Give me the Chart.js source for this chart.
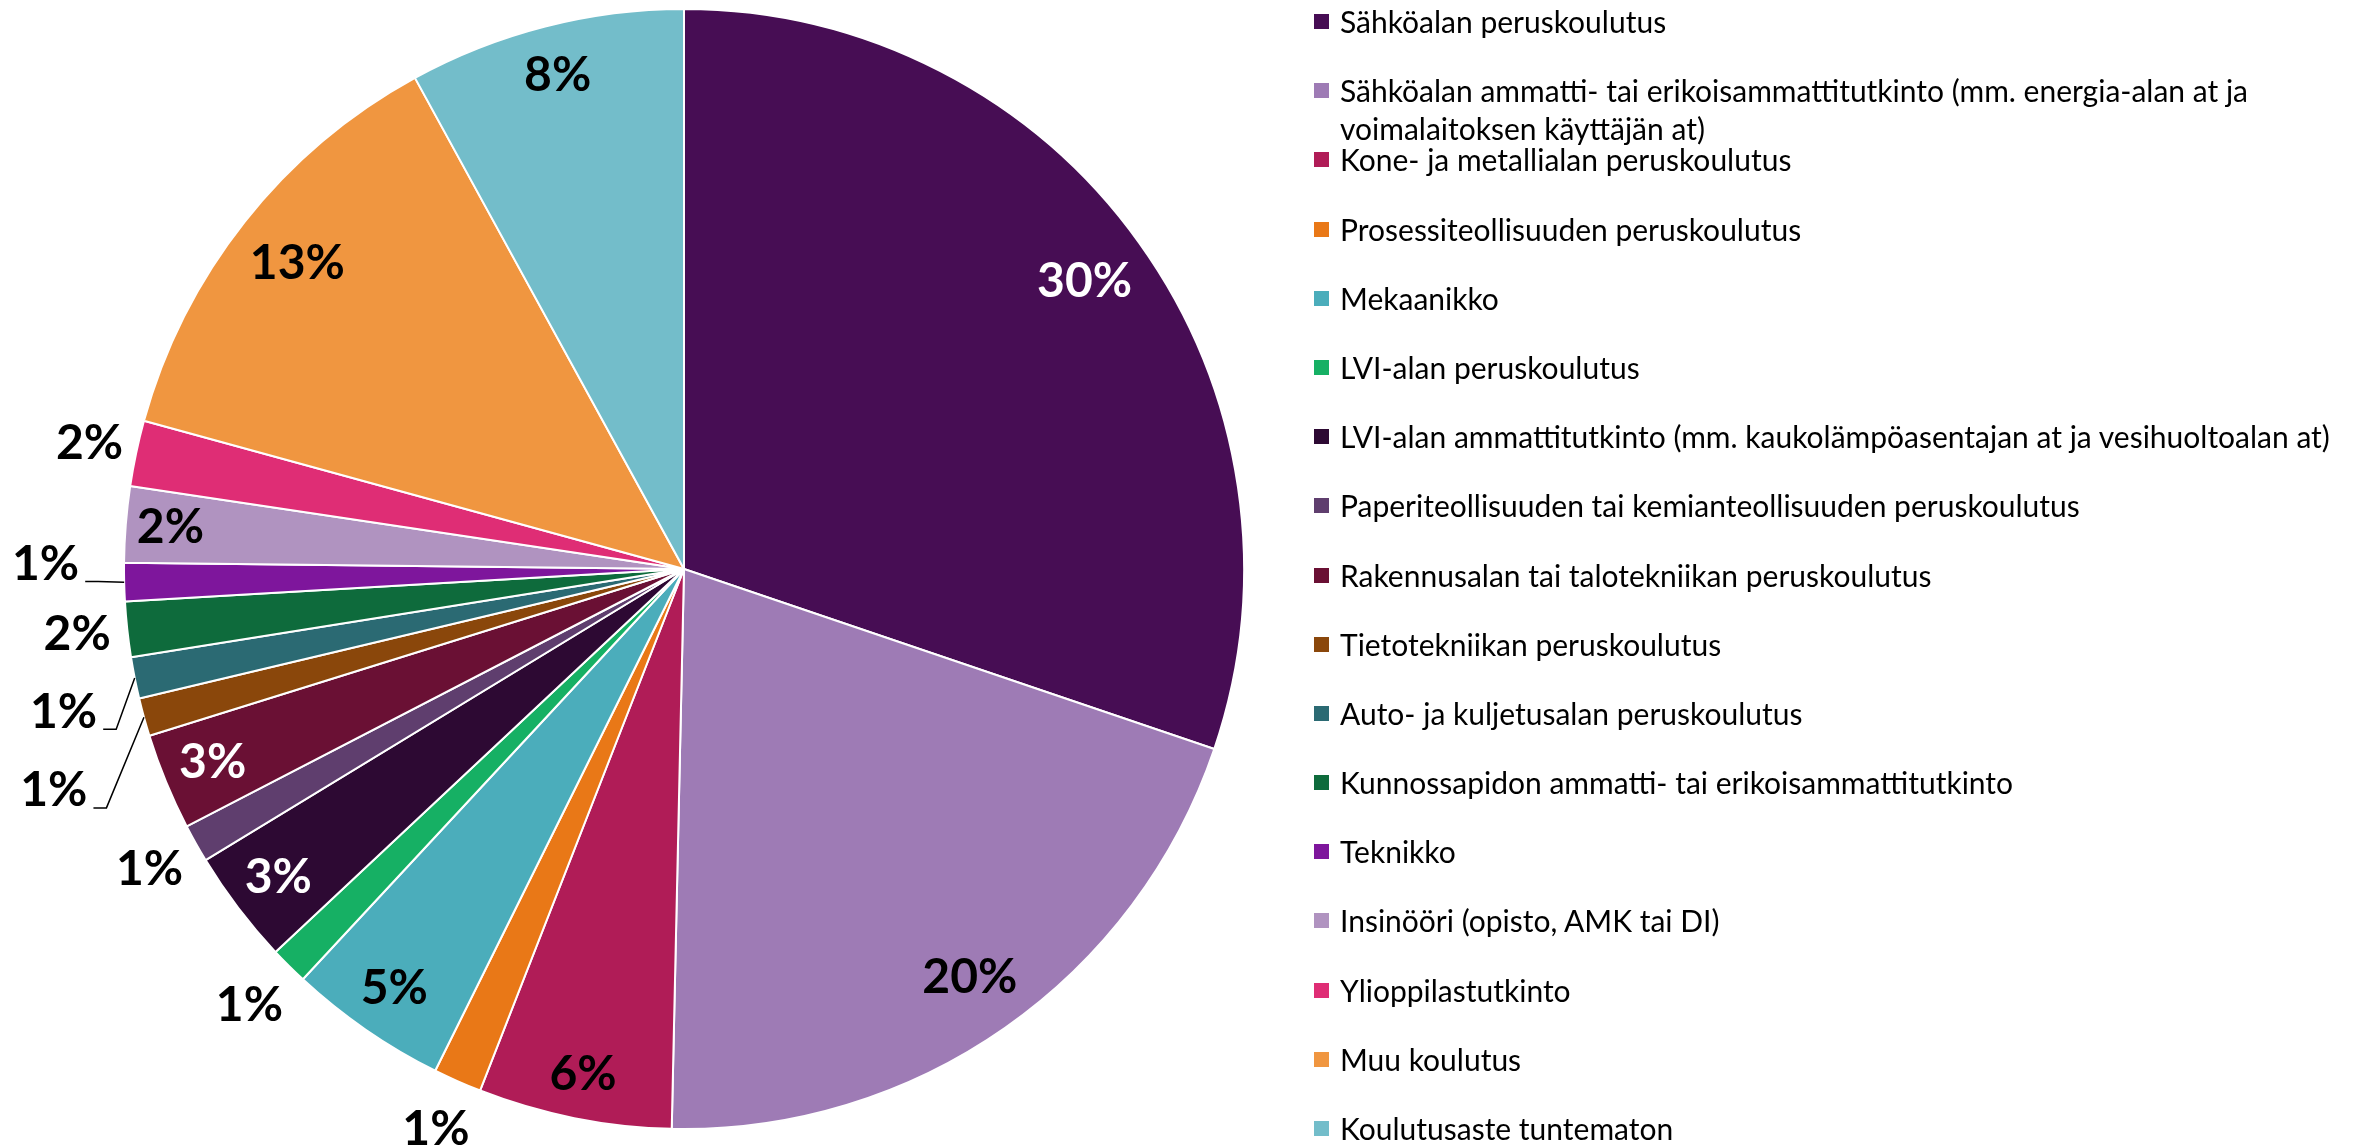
<!DOCTYPE html>
<html>
<head>
<meta charset="utf-8">
<script src="https://cdn.jsdelivr.net/npm/chart.js@4.4.1/dist/chart.umd.min.js"></script>
<style>
  html, body { margin: 0; padding: 0; background: #fff; }
  body { width: 2372px; height: 1148px; position: relative; overflow: hidden; font-family: Lato, 'Open Sans', sans-serif; }
  #pieBox { position: absolute; left: 0; top: 0; width: 1368px; height: 1148px; }
  #legend { position: absolute; left: 1314px; top: 2px; width: 1058px; }
  .item { height: 69.2px; display: flex; align-items: flex-start; }
  .swatch { width: 15px; height: 15px; margin-top: 12px; margin-right: 11px; flex: none; }
  .text { font-size: 30px; line-height: 38px; color: #000; white-space: nowrap; }
</style>
</head>
<body>
<div id="pieBox"><canvas id="pie"></canvas></div>
<div id="legend"></div>
<script>
// koulutustausta, osuudet (%)
const categories = [
    'Sähköalan peruskoulutus',
    ['Sähköalan ammatti- tai erikoisammattitutkinto (mm. energia-alan at ja', 'voimalaitoksen käyttäjän at)'],
    'Kone- ja metallialan peruskoulutus',
    'Prosessiteollisuuden peruskoulutus',
    'Mekaanikko',
    'LVI-alan peruskoulutus',
    'LVI-alan ammattitutkinto (mm. kaukolämpöasentajan at ja vesihuoltoalan at)',
    'Paperiteollisuuden tai kemianteollisuuden peruskoulutus',
    'Rakennusalan tai talotekniikan peruskoulutus',
    'Tietotekniikan peruskoulutus',
    'Auto- ja kuljetusalan peruskoulutus',
    'Kunnossapidon ammatti- tai erikoisammattitutkinto',
    'Teknikko',
    'Insinööri (opisto, AMK tai DI)',
    'Ylioppilastutkinto',
    'Muu koulutus',
    'Koulutusaste tuntematon'
];
const shares = [30.3, 20.2, 5.6, 1.4, 4.6, 1.1, 3.3, 1.1, 2.8, 1.1, 1.2, 1.6, 1.1, 2.2, 1.9, 12.8, 8.0];
const colors = [
    '#470d54', '#9e7bb5', '#b01c57', '#e97817', '#4badbb', '#16b064',
    '#2d0933', '#5f3e6e', '#6a1034', '#8a470b', '#2b6a73', '#0e6b3c',
    '#7e169c', '#b093c0', '#df2d75', '#f09640', '#73bdca'
];

// label placement: in = inside end, out = just outside, lead = moved out with a leader line
const placement = [
    { mode: 'in', r: 0.88, color: '#fff' },
    { mode: 'in', r: 0.89 },
    { mode: 'in', r: 0.92 },
    { mode: 'out', r: 1.095 },
    { mode: 'in', r: 0.91 },
    { mode: 'out', r: 1.10 },
    { mode: 'in', r: 0.91, color: '#fff' },
    { mode: 'out', r: 1.095 },
    { mode: 'in', r: 0.91, color: '#fff' },
    { mode: 'lead', r: 1.193, deg: 250.6 },
    { mode: 'lead', r: 1.137, deg: 257.0 },
    { mode: 'out', r: 1.09 },
    { mode: 'lead', r: 1.14, deg: 270.4 },
    { mode: 'in', r: 0.92 },
    { mode: 'out', r: 1.085 },
    { mode: 'in', r: 0.88 },
    { mode: 'in', r: 0.91 }
];

const sliceLabels = {
    id: 'sliceLabels',
    afterDatasetsDraw(chart) {
        const ctx = chart.ctx;
        const meta = chart.getDatasetMeta(0);
        const data = chart.data.datasets[0].data;
        const total = data.reduce((a, b) => a + b, 0);
        ctx.save();
        ctx.font = "bold 48px Lato, 'Open Sans', sans-serif";
        ctx.textAlign = 'center';
        ctx.textBaseline = 'middle';
        meta.data.forEach((arc, i) => {
            const p = arc.getProps(['x', 'y', 'startAngle', 'endAngle', 'outerRadius'], true);
            const mid = (p.startAngle + p.endAngle) / 2;
            const pl = placement[i];
            const text = Math.round(data[i] / total * 100) + '%';
            let ang = mid;
            if (pl.mode === 'lead') ang = (pl.deg - 90) * Math.PI / 180;
            const lx = p.x + Math.cos(ang) * p.outerRadius * pl.r;
            const ly = p.y + Math.sin(ang) * p.outerRadius * pl.r;
            ctx.fillStyle = pl.color || '#000';
            ctx.fillText(text, lx, ly);
            if (pl.mode === 'lead') {
                const w = ctx.measureText(text).width;
                const sx = lx + w / 2 + 6;
                const sy = ly + 17;
                const rx = p.x + Math.cos(mid) * p.outerRadius;
                const ry = p.y + Math.sin(mid) * p.outerRadius;
                ctx.beginPath();
                ctx.strokeStyle = '#000';
                ctx.lineWidth = 1.5;
                ctx.moveTo(sx, sy);
                ctx.lineTo(Math.min(sx + 13, rx), sy);
                ctx.lineTo(rx, ry);
                ctx.stroke();
            }
        });
        ctx.restore();
    }
};

const chart = new Chart(document.getElementById('pie').getContext('2d'), {
    type: 'pie',
    data: {
        labels: categories,
        datasets: [{
            data: shares,
            backgroundColor: colors,
            borderColor: '#ffffff',
            borderWidth: 2
        }]
    },
    options: {
        responsive: true,
        maintainAspectRatio: false,
        animation: false,
        layout: { padding: { top: 8, bottom: 18 } },
        plugins: {
            legend: { display: false },
            tooltip: { enabled: false }
        }
    },
    plugins: [sliceLabels]
});

// legend
const legendEl = document.getElementById('legend');
categories.forEach((label, i) => {
    const item = document.createElement('div');
    item.className = 'item';
    const sw = document.createElement('div');
    sw.className = 'swatch';
    sw.style.background = colors[i];
    const tx = document.createElement('div');
    tx.className = 'text';
    const lines = Array.isArray(label) ? label : [label];
    lines.forEach((line, k) => {
        if (k > 0) tx.appendChild(document.createElement('br'));
        tx.appendChild(document.createTextNode(line));
    });
    item.appendChild(sw);
    item.appendChild(tx);
    legendEl.appendChild(item);
});
</script>
</body>
</html>
